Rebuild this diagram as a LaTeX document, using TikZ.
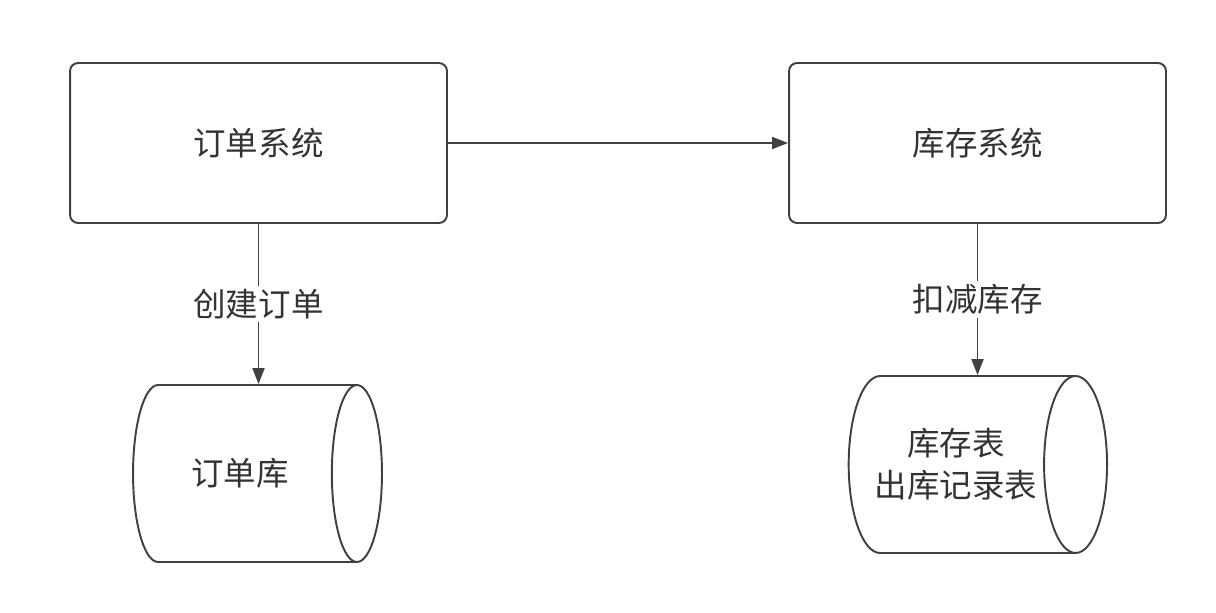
\documentclass[tikz,border=0pt]{standalone}
\usepackage{fontspec}
\newfontfamily\cjk{Noto Sans CJK SC}
\usetikzlibrary{shapes.geometric,arrows.meta}
\definecolor{linegray}{HTML}{404040}
\definecolor{textgray}{HTML}{333333}
\tikzset{
  sysbox/.style={draw=linegray,line width=1.1pt,rounded corners=0.16cm,
    minimum width=7.54cm,minimum height=3.2cm,text=textgray},
  dbcyl/.style={draw=linegray,line width=1.1pt,cylinder,
    minimum height=4.98cm,minimum width=3.54cm,text=textgray,align=center},
  flow/.style={draw=linegray,line width=1.1pt,-{Triangle[length=0.32cm,width=0.24cm]}},
  flowlabel/.style={fill=white,text=textgray,inner sep=2pt}
}
\begin{document}
\begin{tikzpicture}[x=0.02cm,y=-0.02cm,font=\cjk\fontsize{18.5}{24}\selectfont]
  \useasboundingbox (0,0) rectangle (1216,612);
  % systems
  \node[sysbox] (order) at (258.5,143) {订单系统};
  \node[sysbox] (stock) at (977.5,143) {库存系统};
  % databases
  \node[dbcyl,aspect=1.2] (orderdb) at (240,473.5) {订单库};
  \node[dbcyl,aspect=0.75] (stockdb) at (956,464.5) {库存表\\出库记录表};
  % connectors
  \draw[flow] (order.east) -- (stock.west);
  \draw[flow] (order.south) -- node[flowlabel] {创建订单} (order.south |- orderdb.north);
  \draw[flow] (stock.south) -- node[flowlabel] {扣减库存} (stock.south |- stockdb.north);
\end{tikzpicture}
\end{document}
